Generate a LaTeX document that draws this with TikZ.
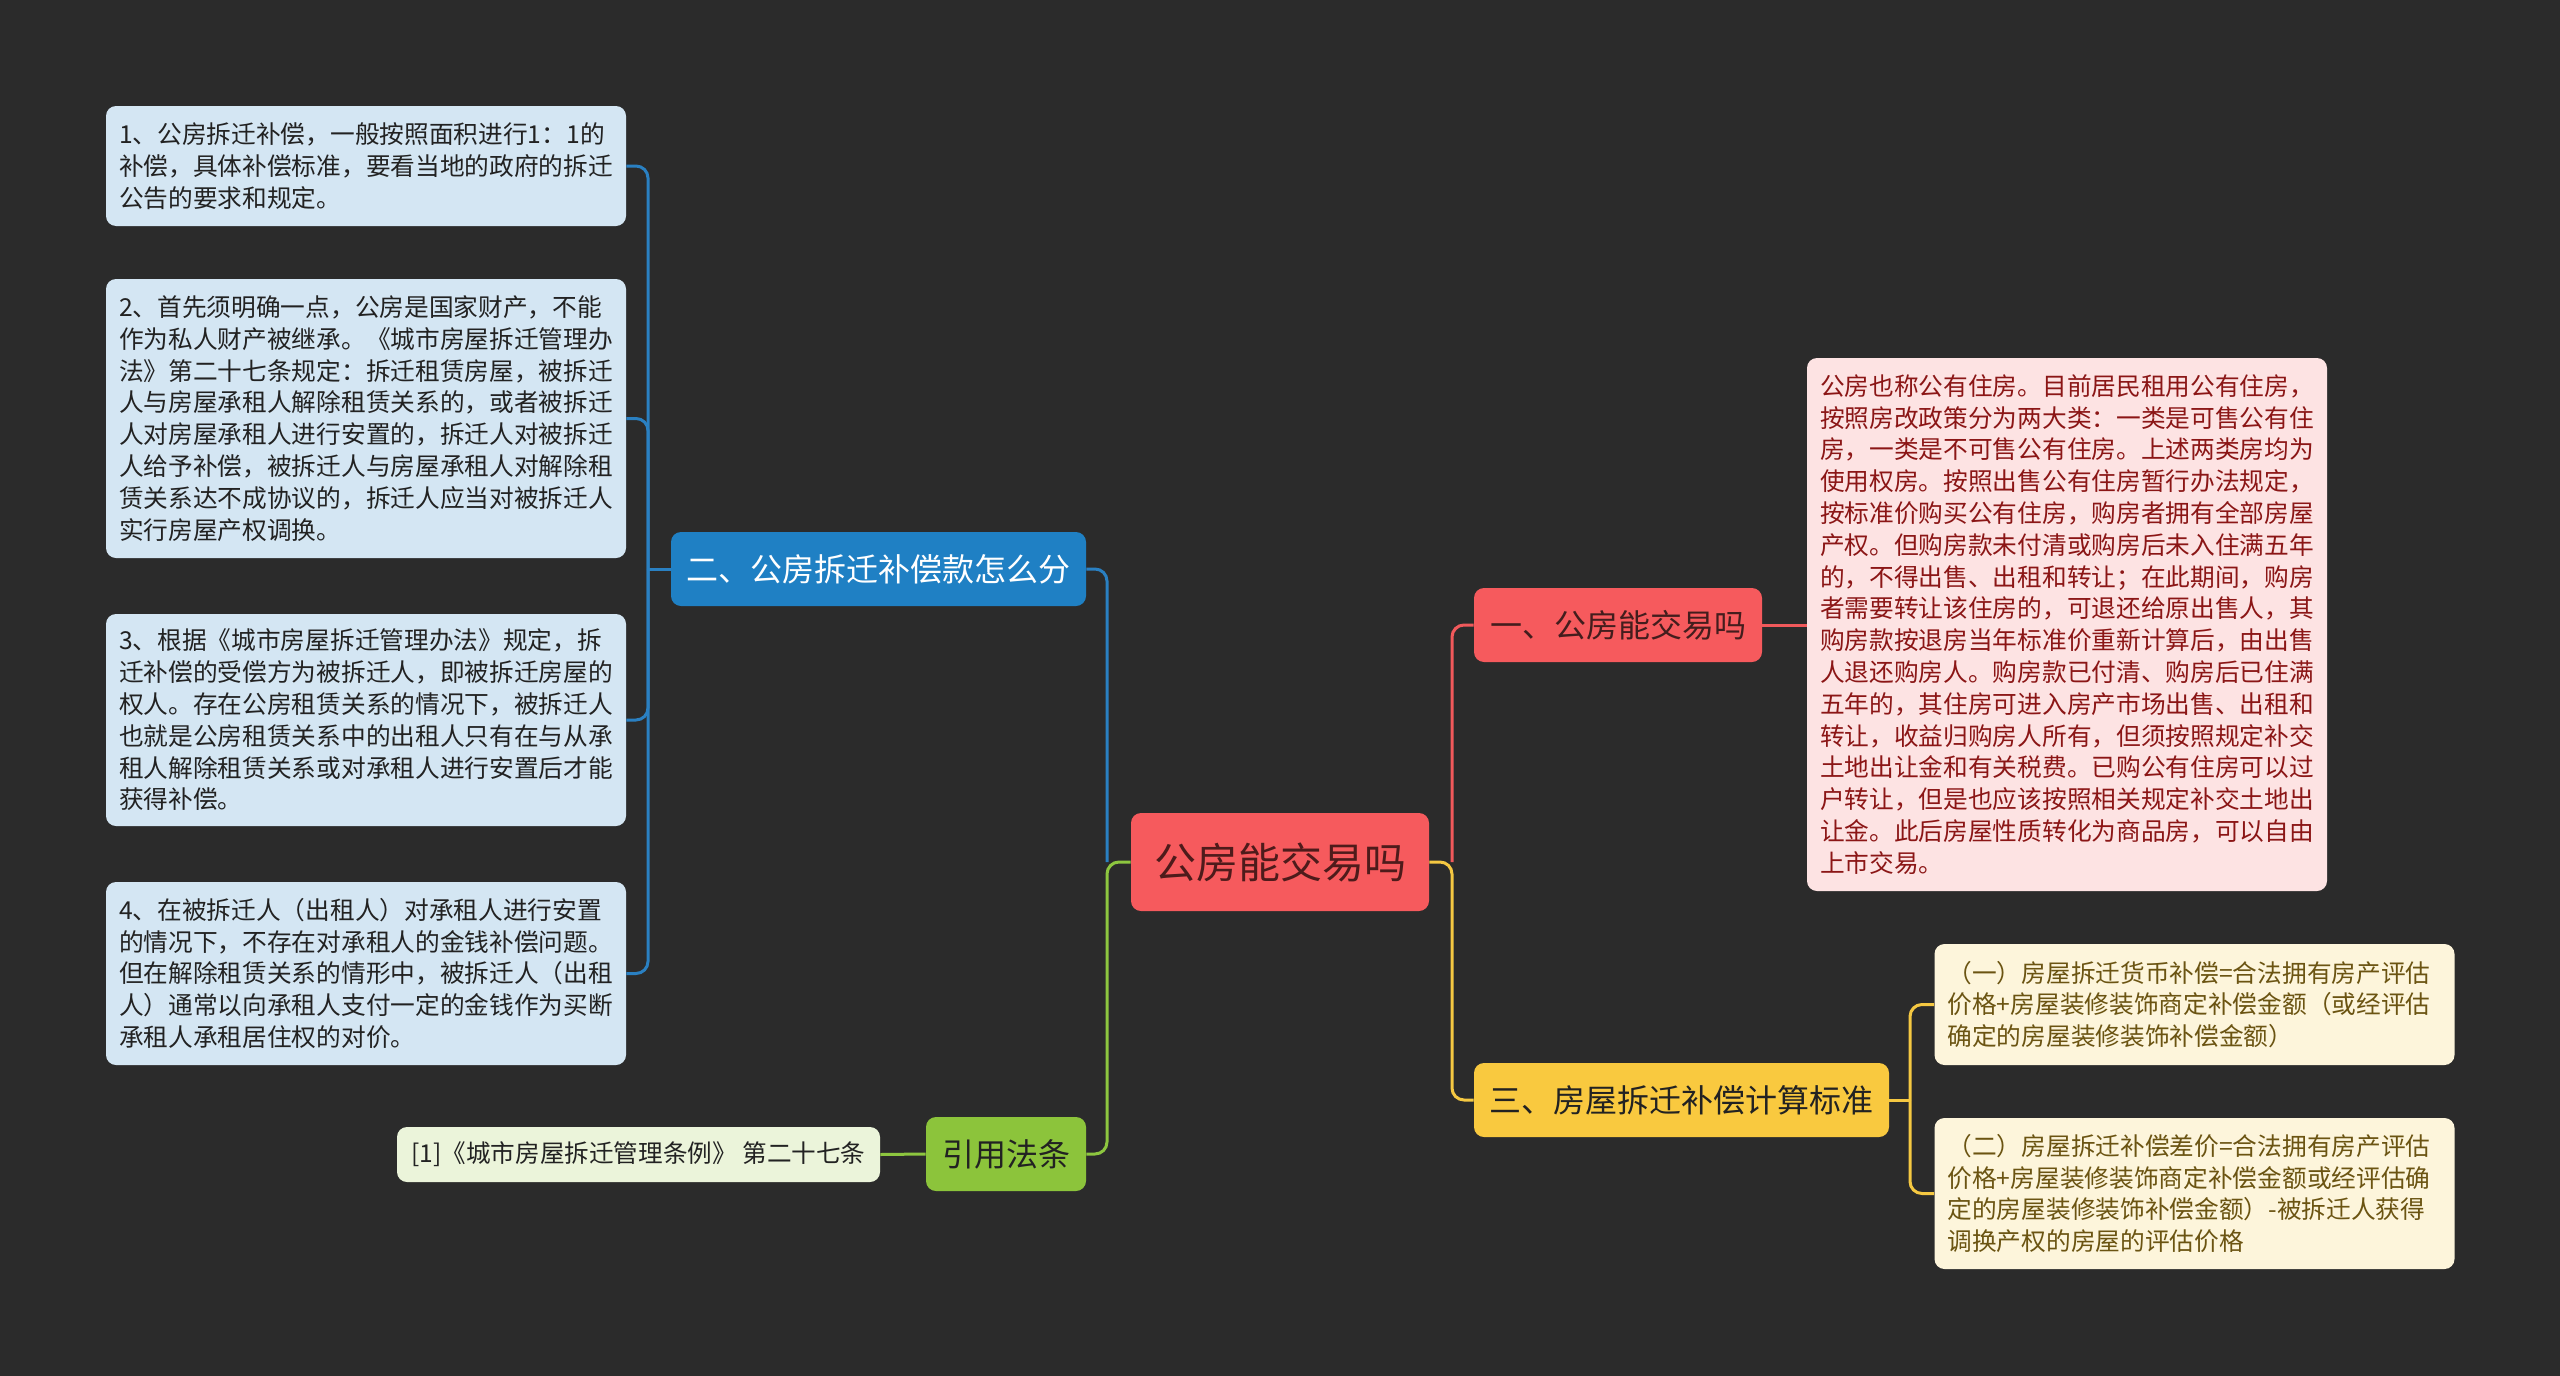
\documentclass[tikz,border=0pt]{standalone}
\usepackage{fontspec}
\setmainfont{Noto Sans CJK SC}
\usetikzlibrary{calc}
\definecolor{bgc}{HTML}{2B2B2B}
\definecolor{bluefill}{HTML}{1F80C4}
\definecolor{blueleaf}{HTML}{D4E6F3}
\definecolor{blueline}{HTML}{2A80C2}
\definecolor{redfill}{HTML}{F65A5D}
\definecolor{redleaf}{HTML}{FDE3E3}
\definecolor{redtext}{HTML}{8B1616}
\definecolor{redline}{HTML}{F0595B}
\definecolor{yelfill}{HTML}{F9C93F}
\definecolor{yelleaf}{HTML}{FDF5DB}
\definecolor{yeltext}{HTML}{6B5412}
\definecolor{yelline}{HTML}{F5C842}
\definecolor{grnfill}{HTML}{8CC43B}
\definecolor{grnleaf}{HTML}{EBF4DA}
\definecolor{grnline}{HTML}{8DC63F}
\definecolor{darktext}{HTML}{222222}
\begin{document}
\begin{tikzpicture}[x=0.5pt,y=-0.5pt,
  boxbase/.style={rounded corners=5pt, inner sep=0pt, align=center},
  rootbox/.style={boxbase, fill=redfill, text=darktext!80!red, minimum width=149pt, minimum height=49pt, font=\fontsize{21}{25}\selectfont},
  branchbox/.style={boxbase, minimum height=37pt, font=\fontsize{16}{20}\selectfont},
  leafbox/.style={rounded corners=5pt, inner xsep=6.5pt, inner ysep=0pt, text width=247pt, align=left, font=\fontsize{12.35}{15.9}\selectfont},
  conn/.style={line width=1.5pt, rounded corners=6pt},
]
\fill[bgc] (0,0) rectangle (2560,1376);
\useasboundingbox (0,0) rectangle (2560,1376);

% central
\node[rootbox] (root) at (1280,862) {公房能交易吗};

% branches
\node[branchbox, fill=bluefill, text=white, minimum width=207.5pt] (b2) at (878.5,569) {二、公房拆迁补偿款怎么分};
\node[branchbox, fill=grnfill, text=darktext, minimum width=80pt] (gr) at (1006,1154) {引用法条};
\node[branchbox, fill=redfill, text=darktext!85!red, minimum width=144pt] (r1) at (1618,625) {一、公房能交易吗};
\node[branchbox, fill=yelfill, text=darktext, minimum width=207.5pt] (y3) at (1681.5,1100) {三、房屋拆迁补偿计算标准};

% left leaves
\node[leafbox, fill=blueleaf, text=darktext, minimum height=60pt] (L1) at (366,166) {1、公房拆迁补偿，一般按照面积进行1：1的\\补偿，具体补偿标准，要看当地的政府的拆迁\\公告的要求和规定。};
\node[leafbox, fill=blueleaf, text=darktext, minimum height=139.5pt] (L2) at (366,418.5) {2、首先须明确一点，公房是国家财产，不能\\作为私人财产被继承。《城市房屋拆迁管理办\\法》第二十七条规定：拆迁租赁房屋，被拆迁\\人与房屋承租人解除租赁关系的，或者被拆迁\\人对房屋承租人进行安置的，拆迁人对被拆迁\\人给予补偿，被拆迁人与房屋承租人对解除租\\赁关系达不成协议的，拆迁人应当对被拆迁人\\实行房屋产权调换。};
\node[leafbox, fill=blueleaf, text=darktext, minimum height=106pt] (L3) at (366,720) {3、根据《城市房屋拆迁管理办法》规定，拆\\迁补偿的受偿方为被拆迁人，即被拆迁房屋的\\权人。存在公房租赁关系的情况下，被拆迁人\\也就是公房租赁关系中的出租人只有在与从承\\租人解除租赁关系或对承租人进行安置后才能\\获得补偿。};
\node[leafbox, fill=blueleaf, text=darktext, minimum height=91.5pt] (L4) at (366,973.5) {4、在被拆迁人（出租人）对承租人进行安置\\的情况下，不存在对承租人的金钱补偿问题。\\但在解除租赁关系的情形中，被拆迁人（出租\\人）通常以向承租人支付一定的金钱作为买断\\承租人承租居住权的对价。};

% citation
\node[boxbase, fill=grnleaf, text=darktext, minimum width=241.5pt, minimum height=27.5pt, font=\fontsize{12.3}{15}\selectfont] (cite) at (638.5,1154.5) {[1]《城市房屋拆迁管理条例》 第二十七条};

% right leaves
\node[leafbox, fill=redleaf, text=redtext, minimum height=266.5pt] (R) at (2067,624.5) {公房也称公有住房。目前居民租用公有住房，\\按照房改政策分为两大类：一类是可售公有住\\房，一类是不可售公有住房。上述两类房均为\\使用权房。按照出售公有住房暂行办法规定，\\按标准价购买公有住房，购房者拥有全部房屋\\产权。但购房款未付清或购房后未入住满五年\\的，不得出售、出租和转让；在此期间，购房\\者需要转让该住房的，可退还给原出售人，其\\购房款按退房当年标准价重新计算后，由出售\\人退还购房人。购房款已付清、购房后已住满\\五年的，其住房可进入房产市场出售、出租和\\转让，收益归购房人所有，但须按照规定补交\\土地出让金和有关税费。已购公有住房可以过\\户转让，但是也应该按照相关规定补交土地出\\让金。此后房屋性质转化为商品房，可以自由\\上市交易。};
\node[leafbox, fill=yelleaf, text=yeltext, minimum height=60.5pt] (Y1) at (2194.5,1004.5) {（一）房屋拆迁货币补偿=合法拥有房产评估\\价格+房屋装修装饰商定补偿金额（或经评估\\确定的房屋装修装饰补偿金额）};
\node[leafbox, fill=yelleaf, text=yeltext, minimum height=75.5pt] (Y2) at (2194.5,1193.5) {（二）房屋拆迁补偿差价=合法拥有房产评估\\价格+房屋装修装饰商定补偿金额或经评估确\\定的房屋装修装饰补偿金额）-被拆迁人获得\\调换产权的房屋的评估价格};

% junction coordinates
\coordinate (lt) at (1107,862);
\coordinate (rt) at (1452,862);
\coordinate (bt) at (648,569);
\coordinate (yt) at (1910,1100);

% connectors left of root
\draw[conn, grnline] (root.west) -- (lt) |- (gr.east);
\draw[conn, blueline] (lt) |- (b2.east);
\draw[conn, grnline] (gr.west) -- (cite.east);
\draw[conn, blueline] (b2.west) -- (bt);
\draw[conn, blueline] (bt) |- (L1.east);
\draw[conn, blueline] (bt) |- (L2.east);
\draw[conn, blueline] (bt) |- (L3.east);
\draw[conn, blueline] (bt) |- (L4.east);

% connectors right of root
\draw[conn, yelline] (root.east) -- (rt) |- (y3.west);
\draw[conn, redline] (rt) |- (r1.west);
\draw[conn, redline] (r1.east) -- (r1.east -| R.west);
\draw[conn, yelline] (y3.east) -- (yt);
\draw[conn, yelline] (yt) |- (Y1.west);
\draw[conn, yelline] (yt) |- (Y2.west);
\end{tikzpicture}
\end{document}
